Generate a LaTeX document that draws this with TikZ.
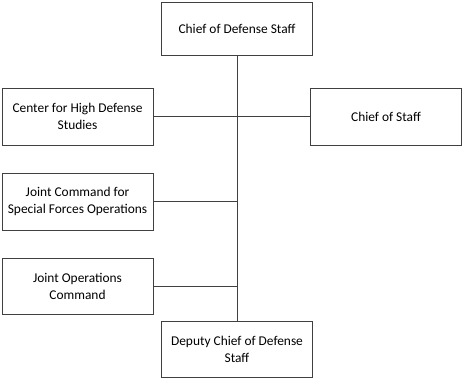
\documentclass[tikz,border=0pt]{standalone}
\usepackage{fontspec}
\setmainfont{Carlito}
\usetikzlibrary{positioning,calc}
\definecolor{linegray}{HTML}{404040}

\begin{document}
\begin{tikzpicture}[
      x=1pt, y=-1pt,
      unit/.style={rectangle, draw=linegray, line width=0.9pt, fill=white,
                   align=center, inner sep=2pt, font=\fontsize{13.4}{17}\selectfont,
                   minimum width=151pt, minimum height=56pt},
      link/.style={draw=linegray, line width=0.9pt},
    ]
    \useasboundingbox (0,0) rectangle (463,379);
    \node[unit, minimum height=53pt] (cds) at (237,28.5) {Chief of Defense Staff};
    \node[unit, minimum height=57pt] (chds) at (77.5,116.5) {Center for High Defense\\Studies};
    \node[unit, minimum height=57pt] (cos) at (386,116.5) {Chief of Staff};
    \node[unit, minimum height=57pt] (jcsfo) at (77.5,201.5) {Joint Command for\\Special Forces Operations};
    \node[unit] (joc) at (77.5,286) {Joint Operations\\Command};
    \node[unit] (dcds) at (237,349) {Deputy Chief of Defense\\Staff};

    \draw[link] (cds.south) -- (dcds.north);
    \draw[link] (chds.east) -- (cos.west);
    \draw[link] (jcsfo.east) -- (jcsfo.east -| cds.south);
    \draw[link] (joc.east) -- (joc.east -| cds.south);
  \end{tikzpicture}
\end{document}
